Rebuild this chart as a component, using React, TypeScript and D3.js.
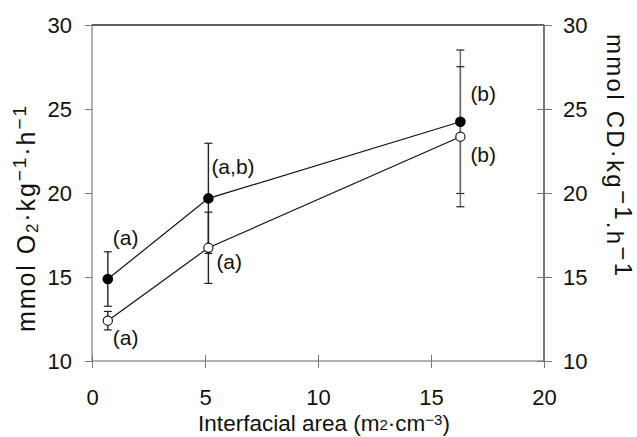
import React, { useEffect, useRef } from 'react';
import * as d3 from 'd3';

// interfacial area (m2/cm3)
const areas = [0.7, 5.15, 16.3];
// O2 uptake (filled)
const o2Values = [14.88, 19.68, 24.24];
const o2Sd = [1.62, 3.28, 4.27];
// conjugated dienes (open)
const cdValues = [12.4, 16.74, 23.35];
const cdSd = [0.55, 2.12, 4.17];

const o2Letters = ["(a)", "(a,b)", "(b)"];
const cdLetters = ["(a)", "(a)", "(b)"];

const xTicks = [0, 5, 10, 15, 20];
const yTicks = [10, 15, 20, 25, 30];

const App: React.FC = () => {
  const svgRef = useRef<SVGSVGElement>(null);
  const width = 637;
  const height = 437;

  useEffect(() => {
    if (!svgRef.current) return;
    const svg = d3.select(svgRef.current);
    svg.selectAll("*").remove();

    const font = "'Liberation Sans', Arial, sans-serif";
    const frame = { left: 92, right: 544, top: 25, bottom: 361 };

    const x = d3.scaleLinear().domain([0, 20]).range([frame.left, frame.right]);
    const y = d3.scaleLinear().domain([10, 30]).range([frame.bottom, frame.top]);

    // frame
    svg.append("rect")
      .attr("x", frame.left).attr("y", frame.top)
      .attr("width", frame.right - frame.left).attr("height", frame.bottom - frame.top)
      .attr("fill", "none").attr("stroke", "#888").attr("stroke-width", 1.3);
    svg.append("line").attr("x1", frame.left).attr("x2", frame.right).attr("y1", frame.top).attr("y2", frame.top)
      .attr("stroke", "#444").attr("stroke-width", 1.3);
    svg.append("line").attr("x1", frame.right).attr("x2", frame.right).attr("y1", frame.top).attr("y2", frame.bottom)
      .attr("stroke", "#555").attr("stroke-width", 1.3);

    // axes
    const axStyle = (g: any) => {
      g.select(".domain").remove();
      g.selectAll(".tick line").attr("stroke", "#777");
      g.selectAll(".tick text").attr("fill", "#111").style("font-family", font).style("font-size", "22px");
    };
    svg.append("g").attr("transform", `translate(0,${frame.bottom + 6})`)
      .call(d3.axisBottom(x).tickValues(xTicks).tickSize(1).tickPadding(21).tickFormat(d3.format("d")))
      .call(axStyle)
      .call((g: any) => g.selectAll(".tick line").attr("y1", -12).attr("y2", 1));
    svg.append("g").attr("transform", `translate(${frame.left},0)`)
      .call(d3.axisLeft(y).tickValues(yTicks).tickSize(7).tickPadding(13).tickFormat(d3.format("d")))
      .call(axStyle);
    svg.append("g").attr("transform", `translate(${frame.right},0)`)
      .call(d3.axisRight(y).tickValues(yTicks).tickSize(8).tickPadding(11).tickFormat(d3.format("d")))
      .call(axStyle)
      .call((g: any) => g.selectAll(".tick line").attr("x1", -7));

    // axis titles
    const xt = svg.append("text").attr("x", 324).attr("y", 431).attr("text-anchor", "middle")
      .attr("fill", "#111").style("font-family", font).style("font-size", "22.5px");
    xt.append("tspan").text("Interfacial area (m");
    xt.append("tspan").attr("font-size", "15px").attr("dy", -1).text("2");
    xt.append("tspan").attr("dy", 1).text("·cm");
    xt.append("tspan").attr("font-size", "15px").attr("dy", -6).text("−3");
    xt.append("tspan").attr("dy", 6).text(")");

    const yl = svg.append("text").attr("transform", "translate(35,219) rotate(-90)").attr("text-anchor", "middle")
      .attr("textLength", 226).attr("lengthAdjust", "spacing")
      .attr("fill", "#111").style("font-family", font).style("font-size", "25px");
    yl.append("tspan").text("mmol O");
    yl.append("tspan").attr("font-size", "17px").attr("dy", 3).text("2");
    yl.append("tspan").attr("dy", -3).text("·kg");
    yl.append("tspan").attr("font-size", "19px").attr("dy", -9).text("−1");
    yl.append("tspan").attr("dy", 9).text("·h");
    yl.append("tspan").attr("font-size", "19px").attr("dy", -9).text("−1");

    const yr = svg.append("text").attr("transform", "translate(607,155) rotate(90)").attr("text-anchor", "middle")
      .attr("textLength", 242).attr("lengthAdjust", "spacing")
      .attr("fill", "#111").style("font-family", font).style("font-size", "24px");
    yr.append("tspan").text("mmol CD·kg");
    yr.append("tspan").attr("dy", -8).text("−1");
    yr.append("tspan").attr("dy", 8).text(".h");
    yr.append("tspan").attr("dy", -8).text("−1");

    // error bars
    const drawErr = (vals: number[], sds: number[]) => {
      vals.forEach((v, i) => {
        const col = i === 2 ? "#666" : "#222";
        const cx = x(areas[i]);
        svg.append("line").attr("x1", cx).attr("x2", cx).attr("y1", y(v - sds[i])).attr("y2", y(v + sds[i]))
          .attr("stroke", col).attr("stroke-width", 1.4);
        [v - sds[i], v + sds[i]].forEach(e => {
          svg.append("line").attr("x1", cx - 4).attr("x2", cx + 4).attr("y1", y(e)).attr("y2", y(e))
            .attr("stroke", "#222").attr("stroke-width", 1.2);
        });
      });
    };
    drawErr(o2Values, o2Sd);
    drawErr(cdValues, cdSd);

    // lines
    const line = d3.line<number>().x((_, i) => x(areas[i])).y(d => y(d));
    svg.append("path").datum(o2Values).attr("d", line).attr("fill", "none").attr("stroke", "#111").attr("stroke-width", 1.2);
    svg.append("path").datum(cdValues).attr("d", line).attr("fill", "none").attr("stroke", "#111").attr("stroke-width", 1.2);

    // markers
    svg.selectAll(".o2pt").data(o2Values).enter().append("circle")
      .attr("cx", (_, i) => x(areas[i])).attr("cy", d => y(d)).attr("r", 5.3).attr("fill", "#000");
    svg.selectAll(".cdpt").data(cdValues).enter().append("circle")
      .attr("cx", (_, i) => x(areas[i])).attr("cy", d => y(d)).attr("r", 4.6)
      .attr("fill", "#fff").attr("stroke", "#111").attr("stroke-width", 1.1);

    // significance letters
    const o2Off = [[5, -34], [3, -24], [10, -21]];
    const cdOff = [[5, 24], [8, 21], [10, 25]];
    const letter = (vals: number[], labels: string[], off: number[][]) => {
      vals.forEach((v, i) => {
        svg.append("text").attr("x", x(areas[i]) + off[i][0]).attr("y", y(v) + off[i][1])
          .attr("fill", "#111").style("font-family", font).style("font-size", "21px").text(labels[i]);
      });
    };
    letter(o2Values, o2Letters, o2Off);
    letter(cdValues, cdLetters, cdOff);
  }, []);

  return <svg ref={svgRef} width={width} height={height} viewBox={`0 0 ${width} ${height}`}
    style={{ position: "absolute", left: 0, top: 0, background: "#fff" }} />;
};

export default App;
